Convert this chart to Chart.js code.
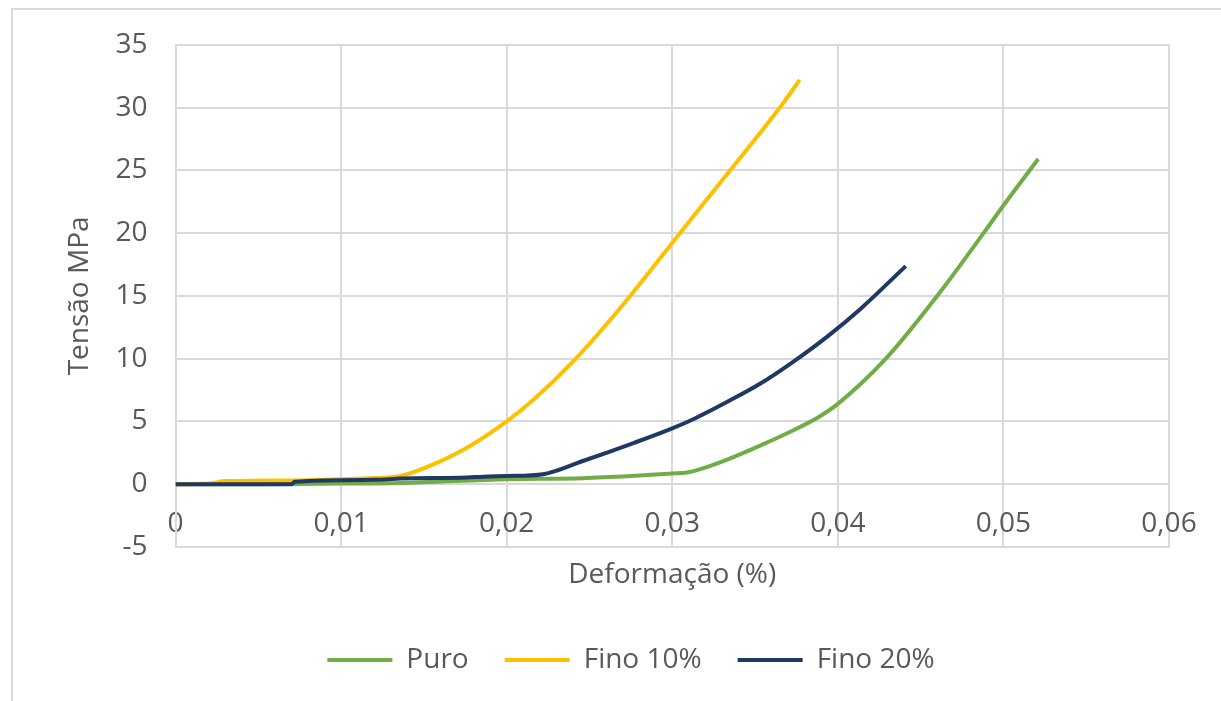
<!DOCTYPE html>
<html>
<head>
<meta charset="utf-8">
<script src="https://cdn.jsdelivr.net/npm/chart.js@4.4.1/dist/chart.umd.min.js"></script>
<style>
  html, body { margin: 0; padding: 0; background: #fff; overflow: hidden; }
  #frame { position: absolute; left: 11px; top: 8px; width: 1300px; height: 800px; border: 2px solid #d9d9d9; }
  #wrap { position: absolute; left: 0; top: 0; width: 1221px; height: 701px; }
</style>
</head>
<body>
<div id="frame"></div>
<div id="wrap"><canvas id="chart"></canvas></div>
<script>
// values
const puroX = [0, 0.005, 0.01, 0.0136, 0.02, 0.0246, 0.0275, 0.03, 0.0309, 0.0317, 0.033, 0.035, 0.037, 0.0389, 0.04, 0.0429, 0.046, 0.0488, 0.05, 0.0521];
const puroY = [0, 0, 0.05, 0.1, 0.4, 0.48, 0.65, 0.85, 0.93, 1.2, 1.8, 2.9, 4.1, 5.4, 6.4, 10, 15, 20, 22.2, 25.9];

const fino10X = [0, 0.002, 0.003, 0.007, 0.01, 0.012, 0.0136, 0.0156, 0.0176, 0.02, 0.0216, 0.0241, 0.0274, 0.0304, 0.0335, 0.0365, 0.0377];
const fino10Y = [0, 0.05, 0.25, 0.3, 0.4, 0.5, 0.66, 1.6, 2.9, 5.0, 6.7, 9.9, 14.9, 19.9, 25, 30, 32.2];

const fino20X = [0, 0.007, 0.0072, 0.012, 0.0136, 0.0176, 0.0186, 0.02, 0.0222, 0.0246, 0.0277, 0.03, 0.0313, 0.0333, 0.0353, 0.0373, 0.0394, 0.0414, 0.0441];
const fino20Y = [0, 0, 0.2, 0.35, 0.45, 0.53, 0.6, 0.65, 0.8, 1.85, 3.3, 4.45, 5.2, 6.55, 8.0, 9.75, 11.8, 14.0, 17.37];

const seriesNames = ["Puro", "Fino 10%", "Fino 20%"];
const xTicks = [0, 0.01, 0.02, 0.03, 0.04, 0.05, 0.06];
const yTicks = [-5, 0, 5, 10, 15, 20, 25, 30, 35];

const TEXT = "#595959";
const GRID = "#d9d9d9";
const FONT = "Open Sans";

const pts = (xs, ys) => xs.map((x, i) => ({ x: x, y: ys[i] }));

const lineDs = (label, data, color, order) => ({
  label: label,
  data: data,
  borderColor: color,
  backgroundColor: color,
  borderWidth: 4,
  pointRadius: 0,
  fill: false,
  cubicInterpolationMode: "monotone",
  order: order,
});

const ctx = document.getElementById("chart").getContext("2d");
new Chart(ctx, {
  type: "line",
  data: {
    datasets: [
      lineDs(seriesNames[0], pts(puroX, puroY), "#70ad47", 3),
      lineDs(seriesNames[1], pts(fino10X, fino10Y), "#ffc000", 2),
      lineDs(seriesNames[2], pts(fino20X, fino20Y), "#203864", 1),
    ],
  },
  options: {
    responsive: true,
    maintainAspectRatio: false,
    animation: false,
    layout: { padding: { left: 41, right: 0, top: 44, bottom: 17 } },
    plugins: {
      tooltip: { enabled: false },
      title: { display: false },
      legend: {
        position: "bottom",
        labels: {
          usePointStyle: true,
          pointStyle: "line",
          pointStyleWidth: 65,
          color: TEXT,
          font: { family: FONT, size: 28 },
          padding: 36,
          sort: (a, b) => a.datasetIndex - b.datasetIndex,
        },
      },
    },
    scales: {
      x: {
        type: "linear",
        position: "bottom",
        min: xTicks[0],
        max: xTicks[xTicks.length - 1],
        afterFit: s => { s.height = 63; },
        afterBuildTicks: s => { s.ticks = xTicks.map(v => ({ value: v })); },
        grid: { color: GRID, lineWidth: 2, drawTicks: false },
        border: { color: GRID, width: 2 },
        ticks: {
          color: TEXT,
          font: { family: FONT, size: 28 },
          mirror: true,   // labels sit inside the plot, under the zero line
          padding: 6,
          maxRotation: 0,
          autoSkip: false,
          callback: v => (v === 0 ? "0" : v.toFixed(2).replace(".", ",")),
        },
        title: {
          display: true,
          text: "Deformação (%)",
          color: TEXT,
          font: { family: FONT, size: 28 },
          padding: { top: 0, bottom: 18 },
        },
      },
      y: {
        type: "linear",
        position: "left",
        min: yTicks[0],
        max: yTicks[yTicks.length - 1],
        afterFit: s => { s.width = 134.5; },
        afterBuildTicks: s => { s.ticks = yTicks.map(v => ({ value: v })); },
        grid: { color: GRID, lineWidth: 2, drawTicks: false },
        border: { color: GRID, width: 2 },
        ticks: {
          color: TEXT,
          font: { family: FONT, size: 28 },
          padding: 28,
        },
        title: {
          display: true,
          text: "Tensão MPa",
          color: TEXT,
          font: { family: FONT, size: 28 },
          padding: { top: 22, bottom: 0 },
        },
      },
      // empty axis on the right, only to keep the plot from reaching the edge
      yRight: {
        type: "linear",
        position: "right",
        min: 0,
        max: 1,
        afterFit: s => { s.width = 52; },
        grid: { drawOnChartArea: false, drawTicks: false },
        border: { display: false },
        ticks: { display: false },
      },
    },
  },
});
</script>
</body>
</html>
